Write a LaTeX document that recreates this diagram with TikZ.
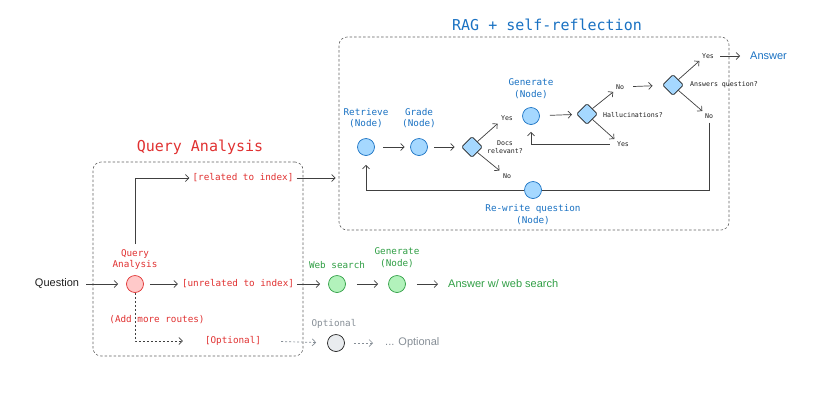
\documentclass[tikz,border=0pt]{standalone}
\usepackage{fontspec}
\setmainfont{DejaVu Sans Mono}
\newfontfamily\hand{Liberation Sans}
\usetikzlibrary{arrows.meta,shapes.geometric}

\definecolor{rblue}{HTML}{1971C2}
\definecolor{fblue}{HTML}{A5D8FF}
\definecolor{rred}{HTML}{E03131}
\definecolor{fred}{HTML}{FFC9C9}
\definecolor{rgreen}{HTML}{2F9E44}
\definecolor{fgreen}{HTML}{B2F2BB}
\definecolor{rgray}{HTML}{868E96}
\definecolor{fgray}{HTML}{E9ECEF}
\definecolor{ink}{HTML}{1E1E1E}

\tikzset{
  dot/.style={circle, minimum size=17pt, inner sep=0pt, line width=0.7pt},
  bluedot/.style={dot, draw=rblue, fill=fblue},
  reddot/.style={dot, draw=rred, fill=fred},
  greendot/.style={dot, draw=rgreen, fill=fgreen},
  graydot/.style={dot, draw=ink, fill=fgray},
  decide/.style={diamond, aspect=1, minimum width=21pt, minimum height=21pt,
    inner sep=0pt, draw=ink, fill=fblue, line width=0.7pt, rounded corners=1.5pt},
  arr/.style={draw=ink!85, line width=0.7pt, -{Straight Barb[length=3.5pt,width=7pt]}},
  garr/.style={arr, draw=rgray, dash pattern=on 2pt off 2pt},
  darr/.style={arr, dash pattern=on 2pt off 2pt},
  lbl/.style={font=\fontsize{9.3}{11.5}\selectfont, align=center, inner sep=0pt},
  small/.style={font=\fontsize{6.6}{8}\selectfont, text=ink, align=center, inner sep=1pt},
  title/.style={font=\fontsize{15}{18}\selectfont, inner sep=0pt},
  handtext/.style={font=\hand\fontsize{11}{13}\selectfont, inner sep=0pt},
  frame/.style={draw=ink!70, dash pattern=on 2.5pt off 2pt, rounded corners=8pt,
    line width=0.6pt, inner sep=0pt},
}

\begin{document}
\begin{tikzpicture}[x=1pt,y=-1pt]
\useasboundingbox (0,0) rectangle (840,400);

% group frames and their titles
\node[frame, minimum width=390pt, minimum height=193pt] (rag) at (534,133.5) {};
\node[frame, minimum width=210pt, minimum height=194pt] (qaf) at (198,259) {};
\node[title, text=rblue] (ragtitle) at (547,25) {RAG + self-reflection};
\node[title, text=rred] (qatitle) at (200,147) {Query Analysis};

% query routing
\node[handtext, text=ink] (question) at (57,284) {Question};
\node[reddot] (qa) at (135,284) {};
\node[lbl, text=rred] (qalbl) at (135,259.5) {Query\\Analysis};
\node[lbl, text=rred] (related) at (243,178) {[related to index]};
\node[lbl, text=rred] (unrelated) at (238,284) {[unrelated to index]};
\node[lbl, text=rred] (addroutes) at (157,320) {(Add more routes)};
\node[lbl, text=rred] (optlbl) at (233,341) {[Optional]};

% web search branch
\node[greendot] (web) at (337,284) {};
\node[lbl, text=rgreen] (weblbl) at (337,265) {Web search};
\node[greendot] (gen2) at (397,284) {};
\node[lbl, text=rgreen] (gen2lbl) at (397,257.5) {Generate\\(Node)};
\node[handtext, text=rgreen, anchor=west] (answeb) at (448,284) {Answer w/ web search};

% optional branch
\node[graydot] (opt) at (336,343) {};
\node[lbl, text=rgray] (optnodelbl) at (334,324) {Optional};
\node[handtext, text=rgray, anchor=west] (optend) at (385,343) {... Optional};

% RAG nodes
\node[bluedot] (retrieve) at (366,147) {};
\node[lbl, text=rblue] (retrlbl) at (366,118) {Retrieve\\(Node)};
\node[bluedot] (grade) at (419,147) {};
\node[lbl, text=rblue] (gradelbl) at (419,118) {Grade\\(Node)};
\node[decide] (docs) at (472,147) {};
\node[small] (docstxt) at (505,147) {Docs\\relevant?};
\node[small] (yes1) at (507,118) {Yes};
\node[small] (no1) at (507,176) {No};
\node[bluedot] (gen) at (531,116) {};
\node[lbl, text=rblue] (genlbl) at (531,88.5) {Generate\\(Node)};
\node[decide] (hall) at (587,114) {};
\node[small, anchor=west] (halltxt) at (602,115) {Hallucinations?};
\node[small] (no2) at (620,87) {No};
\node[small] (yes2) at (623,144) {Yes};
\node[decide] (ansq) at (673,85) {};
\node[small, anchor=west] (ansqtxt) at (689,85) {Answers question?};
\node[small] (yes3) at (708,56) {Yes};
\node[small] (no3) at (709,116) {No};
\node[handtext, text=rblue, anchor=west] (answer) at (750,56) {Answer};
\node[bluedot] (rewrite) at (533,190) {};
\node[lbl, text=rblue] (rewritelbl) at (533,214.5) {Re-write question\\(Node)};

% routing connectors
\draw[arr, shorten <=7pt, shorten >=8pt] (question) -- (qa);
\draw[arr, shorten <=6pt, shorten >=4pt] (qa) -- (unrelated);
\draw[arr, shorten <=5pt] (qalbl.north) |- ([xshift=-3pt]related.west);
\draw[arr, shorten <=3pt, shorten >=3pt] (related.east) -- (related.east -| rag.west);
\draw[arr, shorten <=3pt, shorten >=8pt] (unrelated.east) -- (web);
\draw[arr, shorten <=11pt, shorten >=10pt] (web) -- (gen2);
\draw[arr, shorten <=11pt, shorten >=10pt] (gen2) -- (answeb.west);
\draw[darr, shorten >=22pt] (qa.south) |- (optlbl.west);
\draw[garr, shorten <=20pt, shorten >=11pt] (optlbl.east) -- (opt);
\draw[garr, shorten <=9pt, shorten >=12pt] (opt) -- (optend.west);

% RAG connectors
\draw[arr, shorten <=8.5pt, shorten >=5.5pt] (retrieve) -- (grade);
\draw[arr, shorten <=6.5pt, shorten >=6.5pt] (grade) -- (docs);
\draw[arr, shorten >=3pt] (docs.north east) -- (yes1.south west);
\draw[arr, shorten >=3pt] (docs.south east) -- (no1.north west);
\draw[arr, shorten <=10pt, shorten >=4.5pt] (gen) -- (hall);
\draw[arr, shorten >=2pt] (hall.north east) -- (no2.south west);
\draw[arr, shorten >=2pt] (hall.south east) -- (yes2.north west);
\draw[arr, shorten <=6pt] (yes2.west) -| ([yshift=-7pt]gen.south);
\draw[arr, shorten <=8pt, shorten >=10pt] (no2) -- (ansq);
\draw[arr, shorten >=2pt] (ansq.north east) -- (yes3.south west);
\draw[arr, shorten >=2pt] (ansq.south east) -- (no3.north west);
\draw[arr, shorten <=5pt, shorten >=10pt] (yes3.east) -- (answer.west);
\draw[draw=ink!85, line width=0.7pt, shorten <=3pt] (no3.south) |- (rewrite.east);
\draw[arr] (rewrite.west) -| ([yshift=-9pt]retrieve.south);
\end{tikzpicture}
\end{document}
